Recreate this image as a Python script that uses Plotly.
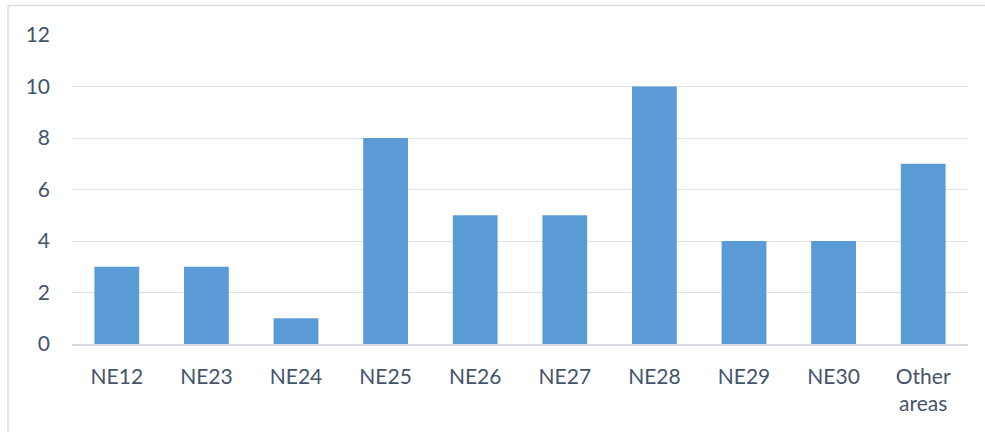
import plotly.graph_objects as go

# Count of records by postcode area
areas = ["NE12", "NE23", "NE24", "NE25", "NE26", "NE27", "NE28", "NE29", "NE30", "Other<br>areas"]
counts = [3, 3, 1, 8, 5, 5, 10, 4, 4, 7]
y_ticks = [0, 2, 4, 6, 8, 10, 12]

text_color = "#44546a"
grid_color = "#dfe3e8"
font_family = "Lato, 'Open Sans', sans-serif"

fig = go.Figure(
    go.Bar(
        x=areas,
        y=counts,
        width=0.5,
        marker=dict(color="#5b9bd5", line=dict(width=0)),
        hoverinfo="x+y",
    )
)

fig.update_layout(
    width=985,
    height=432,
    margin=dict(l=72, r=17, t=35, b=88),
    paper_bgcolor="white",
    plot_bgcolor="white",
    showlegend=False,
    font=dict(family=font_family, size=21, color=text_color),
    bargap=0.5,
    shapes=[
        # left edge of the light chart frame
        dict(
            type="line",
            xref="paper",
            yref="paper",
            x0=-0.0714,
            x1=-0.0714,
            y0=-0.4,
            y1=1.0955,
            line=dict(color="#d9dde3", width=1.5),
            layer="below",
        ),
        # top edge of the light chart frame
        dict(
            type="line",
            xref="paper",
            yref="paper",
            x0=-0.0714,
            x1=1.02,
            y0=1.0955,
            y1=1.0955,
            line=dict(color="#d9dde3", width=1.5),
            layer="below",
        ),
    ],
)

fig.update_xaxes(
    showgrid=False,
    showline=True,
    linecolor="#d6dbe1",
    linewidth=1.5,
    ticks="",
    ticklabelstandoff=13,
    tickfont=dict(size=21, color=text_color),
)

fig.update_yaxes(
    range=[0, 12],
    tickvals=y_ticks,
    showgrid=True,
    gridcolor=grid_color,
    gridwidth=1.3,
    zeroline=False,
    showline=False,
    ticks="",
    ticklabelstandoff=21,
    tickfont=dict(size=21, color=text_color),
)

fig.write_html("out.html", config={"displayModeBar": False})
